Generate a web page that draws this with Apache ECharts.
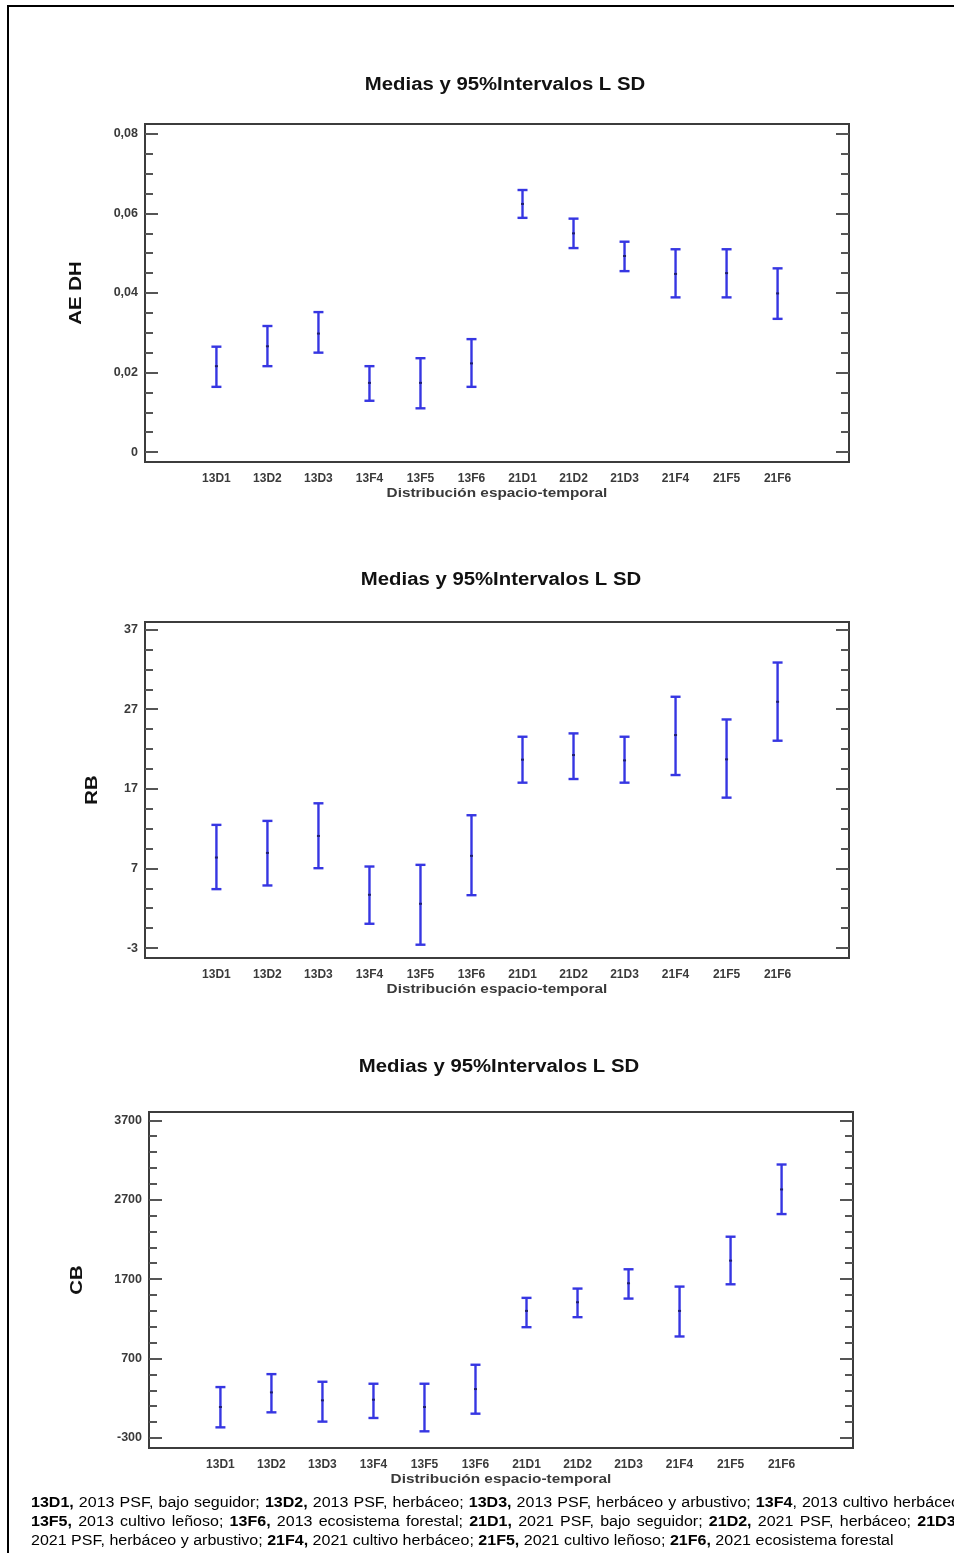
<!DOCTYPE html>
<html><head><meta charset="utf-8">
<script src="https://cdn.jsdelivr.net/npm/echarts@6/dist/echarts.min.js"></script>
<style>html,body{margin:0;padding:0;background:#fff}#c{width:954px;height:1553px}</style>
</head><body><div id="c"></div>
<script>
// ---------- data ----------
const categories = ['13D1','13D2','13D3','13F4','13F5','13F6','21D1','21D2','21D3','21F4','21F5','21F6'];

const aeMean = [0.0216,0.0266,0.0298,0.0174,0.0174,0.0223,0.0624,0.0550,0.0493,0.0448,0.0450,0.0399];
const aeLow  = [0.0164,0.0216,0.0250,0.0129,0.0110,0.0164,0.0589,0.0513,0.0455,0.0389,0.0389,0.0335];
const aeHigh = [0.0265,0.0317,0.0352,0.0216,0.0236,0.0284,0.0659,0.0587,0.0529,0.0510,0.0510,0.0462];

const rbMean = [8.37,8.95,11.08,3.69,2.56,8.58,20.66,21.24,20.57,23.75,20.70,27.93];
const rbLow  = [4.40,4.86,7.03,0.05,-2.58,3.64,17.77,18.23,17.77,18.73,15.89,23.04];
const rbHigh = [12.47,12.97,15.18,7.24,7.45,13.68,23.54,23.96,23.54,28.56,25.71,32.86];

const cbMean = [90,274,174,182,90,316,1300,1409,1648,1300,1933,2829];
const cbLow  = [-166,23,-94,-48,-216,6,1095,1221,1455,978,1635,2519];
const cbHigh = [341,504,408,383,383,622,1464,1581,1824,1606,2234,3143];

const aeTicks = [0,0.02,0.04,0.06,0.08];
const rbTicks = [-3,7,17,27,37];
const cbTicks = [-300,700,1700,2700,3700];

const chartTitle = 'Medias y 95%Intervalos L SD';
const xName = 'Distribución espacio-temporal';
const yNames = ['AE DH','RB','CB'];

const captionLines = [
  [['13D1,',1],[' 2013 PSF, bajo seguidor; ',0],['13D2,',1],[' 2013 PSF, herbáceo; ',0],['13D3,',1],[' 2013 PSF, herbáceo y arbustivo; ',0],['13F4',1],[', 2013 cultivo herbáceo',0]],
  [['13F5,',1],[' 2013 cultivo leñoso; ',0],['13F6,',1],[' 2013 ecosistema forestal; ',0],['21D1,',1],[' 2021 PSF, bajo seguidor; ',0],['21D2,',1],[' 2021 PSF, herbáceo; ',0],['21D3,',1]],
  [['2021 PSF, herbáceo y arbustivo; ',0],['21F4,',1],[' 2021 cultivo herbáceo; ',0],['21F5,',1],[' 2021 cultivo leñoso; ',0],['21F6,',1],[' 2021 ecosistema forestal',0]]
];

// ---------- layout ----------
const SANS = "'Liberation Sans',Arial,sans-serif";
const panels = [
  {left:145, top:124, width:704, height:338, min:-0.0025, max:0.0825, ticks:aeTicks, sub:4, mean:aeMean, low:aeLow, high:aeHigh, titleX:505, titleY:85, nameX:76},
  {left:145, top:622, width:704, height:336, min:-4.25, max:37.95, ticks:rbTicks, sub:4, mean:rbMean, low:rbLow, high:rbHigh, titleX:501, titleY:580, nameX:92},
  {left:149, top:1112, width:704, height:336, min:-426, max:3804, ticks:cbTicks, sub:5, mean:cbMean, low:cbLow, high:cbHigh, titleX:499, titleY:1067, nameX:77}
];

function minorTicks(ticks, sub, min, max){
  const out = [];
  const step = (ticks[1]-ticks[0])/sub;
  for (let v = ticks[0]-step*sub; v <= ticks[ticks.length-1]+step*sub+1e-9; v += step){
    const r = +v.toFixed(6);
    if (r > min && r < max && ticks.indexOf(r) < 0) out.push(r);
  }
  return out;
}
const fmt = v => String(+(+v).toFixed(4)).replace('.', ',');

const grids = [], xAxes = [], yAxes = [], series = [], graphics = [];
const BLUE = '#3636e2';
const LABEL = '#3a3a3a';

function txt(x, y, text, font, fill, sx, rot, align){
  const g = {type:'text', x:x, y:y, scaleX:sx||1, silent:true,
    style:{text:text, font:font, fill:fill, align:align||'center', verticalAlign:'middle'}};
  if (rot) g.rotation = rot;
  return g;
}

function renderItem(params, api){
  const x = api.value(0);
  const lo = api.coord([x, api.value(1)]);
  const hi = api.coord([x, api.value(2)]);
  const me = api.coord([x, api.value(3)]);
  const cw = 5;
  const st = {stroke: BLUE, lineWidth: 2.4};
  return {type:'group', children:[
    {type:'line', shape:{x1:lo[0], y1:lo[1], x2:hi[0], y2:hi[1]}, style:st},
    {type:'line', shape:{x1:hi[0]-cw, y1:hi[1], x2:hi[0]+cw, y2:hi[1]}, style:st},
    {type:'line', shape:{x1:lo[0]-cw, y1:lo[1], x2:lo[0]+cw, y2:lo[1]}, style:st},
    {type:'rect', shape:{x:me[0]-1.5, y:me[1]-1, width:3, height:2}, style:{fill:'#202070'}}
  ]};
}

panels.forEach((p, gi) => {
  grids.push({left:p.left, top:p.top, width:p.width, height:p.height, show:true, borderColor:'#3c3c3c', borderWidth:2, backgroundColor:'transparent'});
  xAxes.push({gridIndex:gi, type:'value', min:-1.4, max:12.4, position:'bottom',
    axisLine:{show:false, onZero:false}, axisTick:{show:false}, splitLine:{show:false},
    axisLabel:{customValues:categories.map((c,i)=>i), formatter:v=>categories[Math.round(v)], margin:11,
      fontSize:12, fontWeight:'bold', color:LABEL, fontFamily:SANS}});
  const minors = minorTicks(p.ticks, p.sub, p.min, p.max);
  const common = {gridIndex:gi, type:'value', min:p.min, max:p.max, splitLine:{show:false}, axisLine:{show:false, onZero:false}};
  const tickStyle = {color:'#555', width:2};
  yAxes.push(Object.assign({}, common, {position:'left',
    axisTick:{show:true, inside:true, length:13, customValues:p.ticks, lineStyle:tickStyle},
    axisLabel:{show:true, customValues:p.ticks, formatter:fmt, margin:7, fontSize:12.5, fontWeight:'bold', color:LABEL, fontFamily:SANS}}));
  yAxes.push(Object.assign({}, common, {position:'left',
    axisTick:{show:true, inside:true, length:8, customValues:minors, lineStyle:tickStyle}, axisLabel:{show:false}}));
  yAxes.push(Object.assign({}, common, {position:'right',
    axisTick:{show:true, inside:true, length:13, customValues:p.ticks, lineStyle:tickStyle}, axisLabel:{show:false}}));
  yAxes.push(Object.assign({}, common, {position:'right',
    axisTick:{show:true, inside:true, length:8, customValues:minors, lineStyle:tickStyle}, axisLabel:{show:false}}));
  series.push({type:'custom', xAxisIndex:gi, yAxisIndex:gi*4, renderItem:renderItem, clip:false,
    data:categories.map((c,i)=>[i, p.low[i], p.high[i], p.mean[i]])});
  graphics.push(txt(p.titleX, p.titleY, chartTitle, "bold 18px "+SANS, '#111', 1.13));
  graphics.push(txt(p.nameX, p.top+p.height/2, yNames[gi], "bold 17px "+SANS, '#111', 1.2, Math.PI/2));
  graphics.push(txt(p.left+p.width/2, p.top+p.height+31, xName, "bold 13px "+SANS, LABEL, 1.18));
});

// outer frame
graphics.push({type:'rect', shape:{x:8, y:6, width:2000, height:2000}, style:{fill:'none', stroke:'#000', lineWidth:2}, silent:true});

// caption (first two lines justified)
const CAP_SIZE = 14, CAP_SX = 1.145;
const ctx = document.createElement('canvas').getContext('2d');
function capFont(b){ return (b ? 'bold ' : '') + CAP_SIZE + 'px ' + SANS; }
function mw(t, b){ ctx.font = capFont(b); return ctx.measureText(t).width * CAP_SX; }
const capY = [1503, 1522, 1541];
captionLines.forEach((segs, li) => {
  const words = [];
  let glue = false;
  segs.forEach(([t, b]) => {
    const parts = t.split(' ');
    parts.forEach((w, k) => {
      if (k > 0) glue = false;
      if (w) {
        if (glue && words.length) words[words.length-1].parts.push([w, b]);
        else words.push({parts:[[w, b]]});
        glue = true;
      }
    });
  });
  words.forEach(w => { w.width = w.parts.reduce((s,[t,b]) => s + mw(t,b), 0); });
  let gap = mw(' ', 0);
  if (li < 2) {
    const total = words.reduce((s,w)=>s+w.width, 0);
    gap = Math.max(gap, (960 - 31 - total) / (words.length - 1));
  }
  let x = 31;
  words.forEach(w => {
    let xx = x;
    w.parts.forEach(([t,b]) => {
      graphics.push(txt(xx, capY[li], t, capFont(b), '#000', CAP_SX, 0, 'left'));
      xx += mw(t,b);
    });
    x += w.width + gap;
  });
});

const chart = echarts.init(document.getElementById('c'), null, {renderer:'canvas'});
chart.setOption({
  animation:false,
  backgroundColor:'#fff',
  grid:grids, xAxis:xAxes, yAxis:yAxes, series:series, graphic:graphics
});
</script>
</body></html>
